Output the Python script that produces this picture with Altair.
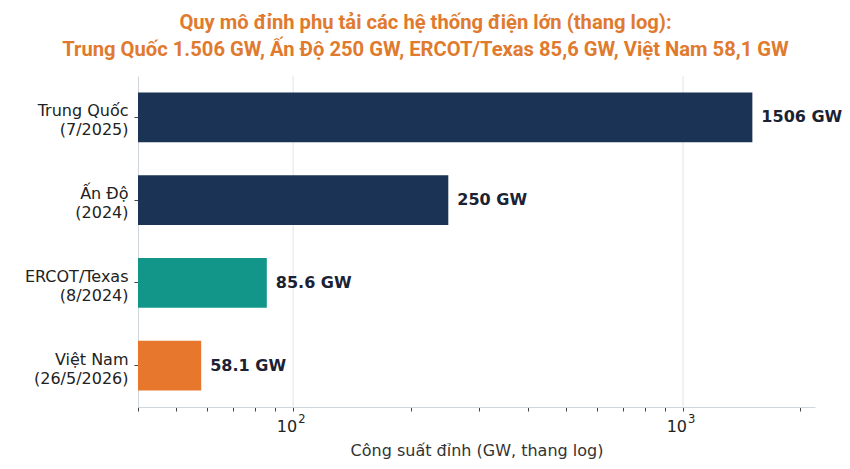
import altair as alt
import pandas as pd

categories = ["Trung Quốc\n(7/2025)", "Ấn Độ\n(2024)", "ERCOT/Texas\n(8/2024)", "Việt Nam\n(26/5/2026)"]
values = [1506, 250, 85.6, 58.1]
value_labels = ["1506 GW", "250 GW", "85.6 GW", "58.1 GW"]
colors = ["#1b3354", "#1b3354", "#13968a", "#e8772e"]
tick_values = [40, 50, 60, 70, 80, 90, 100, 200, 300, 400, 500, 600, 700, 800, 900, 1000, 2000]
major_ticks = [100, 1000]
major_bases = ["10", "10"]
major_exps = ["2", "3"]

df = pd.DataFrame({"cat": categories, "val": values, "lab": value_labels, "col": colors})
major_df = pd.DataFrame({"g": major_ticks, "base": major_bases, "exp": major_exps})

xscale = alt.Scale(type="log", domain=[40, 2180], nice=False, zero=False)
yscale = alt.Scale(domain=categories, paddingInner=0.4, paddingOuter=0.2)

grid = alt.Chart(major_df).mark_rule(color="#dfe4ea", strokeWidth=1).encode(
    x=alt.X("g:Q", scale=xscale)
)

bars = alt.Chart(df).mark_bar().encode(
    y=alt.Y("cat:N", scale=yscale, sort=categories, title=None,
            axis=alt.Axis(labelExpr="split(datum.label, '\\n')", labelFont="DejaVu Sans",
                          labelFontSize=16, labelColor="#222222", labelLineHeight=19,
                          labelPadding=6, tickSize=4, tickColor="#444444", labelOffset=-6,
                          domainColor="#cfd6de", labelLimit=300)),
    x=alt.X("val:Q", scale=xscale, stack=None, title="Công suất đỉnh (GW, thang log)",
            axis=alt.Axis(values=tick_values, grid=False, tickSize=4, tickColor="#444444",
                          domainColor="#cfd6de", labels=False,
                          titleFont="DejaVu Sans", titleFontSize=16,
                          titleFontWeight="normal", titleColor="#333333", titlePadding=31)),
    x2=alt.value(0),
    color=alt.Color("col:N", scale=None),
)

tick_base = alt.Chart(major_df).mark_text(align="right", baseline="middle", dx=4,
                                          font="DejaVu Sans", fontSize=16, color="#222222").encode(
    x=alt.X("g:Q", scale=xscale), y=alt.value(351), text="base:N")
tick_exp = alt.Chart(major_df).mark_text(align="left", baseline="middle", dx=5, dy=-7,
                                         font="DejaVu Sans", fontSize=11.5, color="#222222").encode(
    x=alt.X("g:Q", scale=xscale), y=alt.value(351), text="exp:N")

text = alt.Chart(df).mark_text(align="left", baseline="middle", dx=9, font="DejaVu Sans",
                               fontSize=16, fontWeight="bold", color="#1b2233").encode(
    y=alt.Y("cat:N", scale=yscale, sort=categories),
    x=alt.X("val:Q", scale=xscale),
    text="lab:N",
)

chart = alt.layer(grid, bars, text, tick_base, tick_exp).properties(
    width=677, height=331,
    padding={"left": 130, "top": 68, "right": 27, "bottom": 56},
    autosize=alt.AutoSizeParams(type="none"),
    title=alt.TitleParams(
        text=["Quy mô đỉnh phụ tải các hệ thống điện lớn (thang log):",
              "Trung Quốc 1.506 GW, Ấn Độ 250 GW, ERCOT/Texas 85,6 GW, Việt Nam 58,1 GW"],
        font="Liberation Sans Narrow, Roboto, sans-serif", fontSize=20.2, fontWeight="bold",
        color="#e07a2e", anchor="middle", lineHeight=27, dx=-51, offset=15),
).configure_view(stroke=None)

chart.save("out.html", embed_options={"renderer": "svg", "actions": False})
